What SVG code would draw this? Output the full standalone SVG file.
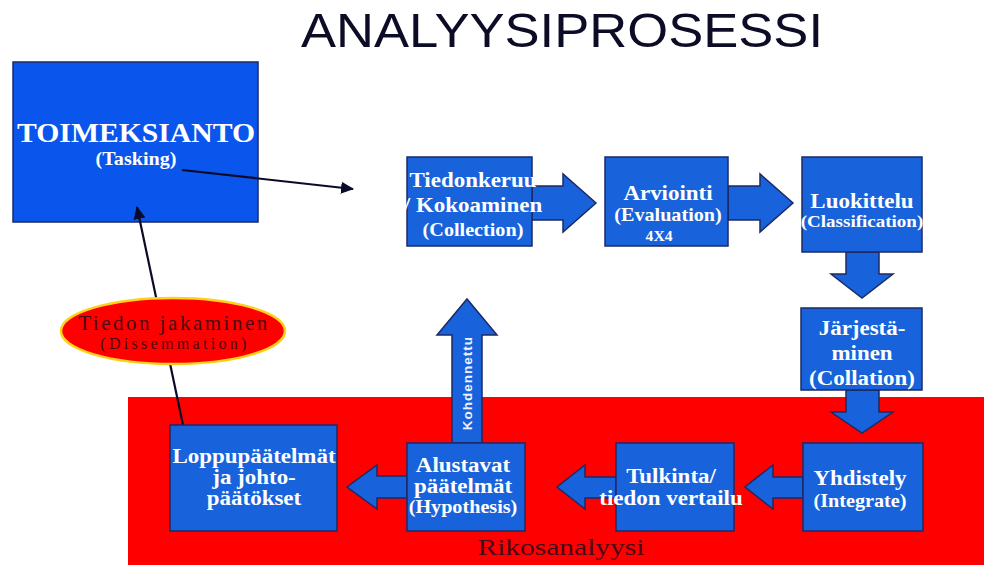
<svg xmlns="http://www.w3.org/2000/svg" width="984" height="565" viewBox="0 0 984 565">
<defs>
<style>
.box{fill:#1863db;stroke:#1c2a66;stroke-width:1.5}
.big{fill:#0a55ec;stroke:#1c2a66;stroke-width:1.5}
.arr{fill:#1863db;stroke:#1c2a66;stroke-width:1.5;stroke-linejoin:miter}
.bt{font-family:"Liberation Serif","Times New Roman",serif;font-weight:bold;fill:#ffffff;text-anchor:middle}
.m{font-size:20.5px}
.p{font-size:18px}
.ln{stroke:#0a0a2a;stroke-width:2.2;fill:none}
.el{font-family:"Liberation Serif","Times New Roman",serif;fill:#4a0a10;text-anchor:middle}
</style>
<marker id="ah" markerUnits="userSpaceOnUse" markerWidth="14" markerHeight="12" refX="12" refY="6" orient="auto">
<path d="M0,0 L13,6 L0,12 Z" fill="#0a0a2a"/>
</marker>
</defs>
<rect x="0" y="0" width="984" height="565" fill="#ffffff"/>
<rect x="128" y="397" width="856" height="168" fill="#ff0000"/>
<text x="562" y="47" font-family="'Liberation Sans',Arial,sans-serif" font-size="48" fill="#0c0c26" text-anchor="middle" textLength="522" lengthAdjust="spacingAndGlyphs">ANALYYSIPROSESSI</text>
<text x="561" y="555" font-family="'Liberation Serif','Times New Roman',serif" font-size="23" fill="#4a0a1a" text-anchor="middle" textLength="167" lengthAdjust="spacingAndGlyphs">Rikosanalyysi</text>

<g id="toimeksianto">
<rect class="big" x="13" y="62" width="245" height="160"/>
<g transform="translate(136,0) scale(1.06,1)">
<text class="bt" x="0" y="142" font-size="28">TOIMEKSIANTO</text>
<text class="bt" x="0" y="165" font-size="19">(Tasking)</text>
</g>
</g>

<g id="connectors">
<line class="ln" x1="182" y1="170" x2="353" y2="189" marker-end="url(#ah)"/>
<line class="ln" x1="183" y1="425" x2="137" y2="207" marker-end="url(#ah)"/>
<polygon class="arr" points="532,186 563,186 563,174 596,203 563,232 563,220 532,220"/>
<polygon class="arr" points="728,186 760,186 760,174 793,203 760,232 760,220 728,220"/>
<polygon class="arr" points="846,252 879,252 879,274 893,274 862,298 831,274 846,274"/>
<polygon class="arr" points="846,390 879,390 879,412 893,412 862,433 831,412 846,412"/>
<polygon class="arr" points="803,477 773,477 773,465 745,487 773,509 773,498 803,498"/>
<polygon class="arr" points="616,477 585,477 585,465 557,487 585,509 585,498 616,498"/>
<polygon class="arr" points="407,476 377,476 377,465 347,487 377,509 377,498 407,498"/>
<polygon class="arr" points="452,443 452,335 437,335 467,299 497,335 482,335 482,443"/>
<text transform="translate(472,383) rotate(-90)" font-family="'Liberation Sans',Arial,sans-serif" font-weight="bold" font-size="13.5" letter-spacing="1" fill="#eef2ff" text-anchor="middle">Kohdennettu</text>
</g>

<g id="tiedonkeruu">
<rect class="box" x="407" y="157" width="125" height="89"/>
<g transform="translate(473,0) scale(1.12,1)">
<text class="bt m" x="0" y="187">Tiedonkeruu</text>
<text class="bt m" x="0" y="212">/ Kokoaminen</text>
<text class="bt p" x="0" y="236">(Collection)</text>
</g>
</g>

<g id="arviointi">
<rect class="box" x="605" y="157" width="123" height="89"/>
<g transform="translate(668,0) scale(1.12,1)">
<text class="bt m" x="0" y="200">Arviointi</text>
<text class="bt p" x="0" y="221">(Evaluation)</text>
<text class="bt" x="-8" y="241" font-size="14">4X4</text>
</g>
</g>

<g id="luokittelu">
<rect class="box" x="802" y="157" width="120" height="95"/>
<g transform="translate(862,0) scale(1.12,1)">
<text class="bt" x="0" y="208" font-size="20.5">Luokittelu</text>
<text class="bt" x="0" y="227" font-size="17">(Classification)</text>
</g>
</g>

<g id="jarjestaminen">
<rect class="box" x="801" y="308" width="121" height="82"/>
<g transform="translate(862,0) scale(1.12,1)">
<text class="bt m" x="0" y="335">Järjestä-</text>
<text class="bt m" x="0" y="360">minen</text>
<text class="bt m" x="0" y="385">(Collation)</text>
</g>
</g>

<g id="yhdistely">
<rect class="box" x="803" y="443" width="120" height="88"/>
<g transform="translate(860,0) scale(1.12,1)">
<text class="bt m" x="0" y="485">Yhdistely</text>
<text class="bt p" x="0" y="507">(Integrate)</text>
</g>
</g>

<g id="tulkinta">
<rect class="box" x="616" y="443" width="118" height="88"/>
<g transform="translate(671,0) scale(1.12,1)">
<text class="bt m" x="0" y="483">Tulkinta/</text>
<text class="bt m" x="0" y="505">tiedon vertailu</text>
</g>
</g>

<g id="alustavat">
<rect class="box" x="407" y="443" width="118" height="88"/>
<g transform="translate(463,0) scale(1.12,1)">
<text class="bt m" x="0" y="472">Alustavat</text>
<text class="bt m" x="0" y="493">päätelmät</text>
<text class="bt p" x="0" y="513">(Hypothesis)</text>
</g>
</g>

<g id="loppupaatelmat">
<rect class="box" x="170" y="425" width="167" height="106"/>
<g transform="translate(254,0) scale(1.12,1)">
<text class="bt m" x="0" y="463">Loppupäätelmät</text>
<text class="bt m" x="0" y="484">ja johto-</text>
<text class="bt m" x="0" y="505">päätökset</text>
</g>
</g>

<g id="tiedon-jakaminen">
<ellipse cx="173" cy="331" rx="112" ry="33" fill="#ff0000" stroke="#ffd21a" stroke-width="2.5"/>
<text class="el" x="174" y="330" font-size="21" letter-spacing="2.5">Tiedon jakaminen</text>
<text class="el" x="175" y="349" font-size="16" letter-spacing="3.3">(Dissemmation)</text>
</g>
</svg>
